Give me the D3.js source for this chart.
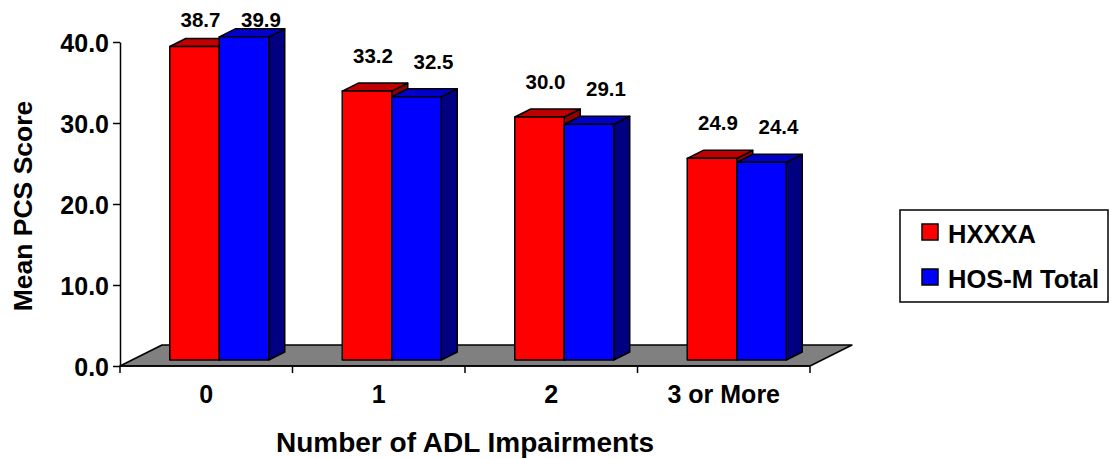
<!DOCTYPE html>
<html>
<head>
<meta charset="utf-8">
<script src="https://cdn.jsdelivr.net/npm/d3@7"></script>
<style>
  html, body { margin: 0; padding: 0; background: #fff; }
  svg { display: block; }
  text { font-family: "Liberation Sans", Arial, sans-serif; font-weight: bold; fill: #000; }
</style>
</head>
<body>
<svg id="chart" width="1112" height="459"></svg>
<script>
// Mean PCS score by number of ADL impairments
const categories = ["0", "1", "2", "3 or More"];
const seriesNames = ["HXXXA", "HOS-M Total"];
const hxxxa = [38.7, 33.2, 30.0, 24.9];
const hosmTotal = [39.9, 32.5, 29.1, 24.4];
const yTicks = [0, 10, 20, 30, 40];

const seriesValues = [hxxxa, hosmTotal];
const frontColors = ["#ff0000", "#0000ff"];
const topColors = ["#c00000", "#0000c8"];
const sideColors = ["#900000", "#000080"];
const labelShift = [6, 17];

const svg = d3.select("#chart");

// plot frame
const left = 120, right = 810, baseY = 366, topY = 42;
const floorDX = 42, floorDY = -21;   // depth of the floor
const barDX = 16, barDY = -8;        // depth of each bar
const frontDX = 13, frontDY = -6;    // bars stand slightly behind the front edge

const x = d3.scaleBand().domain(categories).range([left, right]).paddingInner(0).paddingOuter(0);
const y = d3.scaleLinear().domain([0, 40]).range([baseY, topY]);
const yBar = v => y(v) + frontDY;
const barW = 49.5;

// floor
svg.append("polygon")
  .attr("points", [
    [left, baseY], [right, baseY],
    [right + floorDX, baseY + floorDY], [left + floorDX, baseY + floorDY]
  ].map(p => p.join(",")).join(" "))
  .attr("fill", "#808080")
  .attr("stroke", "#000")
  .attr("stroke-width", 1.5)
  .attr("stroke-linejoin", "round");

// y axis
const yAxis = d3.axisLeft(y).tickValues(yTicks).tickFormat(d3.format(".1f")).tickSize(7).tickSizeOuter(0);
const gy = svg.append("g").attr("transform", `translate(${left},0)`).call(yAxis);
gy.select(".domain").attr("stroke", "#000").attr("stroke-width", 1.5);
gy.selectAll(".tick line").attr("stroke", "#000").attr("stroke-width", 1.5);
gy.selectAll(".tick text").attr("x", -11).attr("dy", "0.36em")
  .style("font-size", "25px").style("font-family", "'Liberation Sans', Arial, sans-serif").style("font-weight", "bold");

// x axis
const xTickPos = d3.range(categories.length + 1).map(i => left + i * x.bandwidth());
svg.append("line")
  .attr("x1", left).attr("x2", right).attr("y1", baseY).attr("y2", baseY)
  .attr("stroke", "#000").attr("stroke-width", 1.5);
svg.selectAll(".xtick").data(xTickPos).enter().append("line")
  .attr("class", "xtick")
  .attr("x1", d => d).attr("x2", d => d)
  .attr("y1", baseY).attr("y2", baseY + 7)
  .attr("stroke", "#000").attr("stroke-width", 1.5);
svg.selectAll(".xlabel").data(categories).enter().append("text")
  .attr("class", "xlabel")
  .attr("x", d => x(d) + x.bandwidth() / 2)
  .attr("y", 403)
  .attr("text-anchor", "middle")
  .style("font-size", "25px")
  .text(d => d);

// 3D bars
categories.forEach((cat, ci) => {
  const center = x(cat) + x.bandwidth() / 2 + frontDX;
  seriesValues.forEach((vals, si) => {
    const v = vals[ci];
    const x0 = center - barW + si * barW;
    const x1 = x0 + barW;
    const yt = yBar(v), yb = yBar(0);
    const g = svg.append("g").attr("class", "bar");
    const pts = a => a.map(p => p.join(",")).join(" ");
    g.append("polygon")
      .attr("points", pts([[x1, yt], [x1 + barDX, yt + barDY], [x1 + barDX, yb + barDY], [x1, yb]]))
      .attr("fill", sideColors[si]);
    g.append("polygon")
      .attr("points", pts([[x0, yt], [x1, yt], [x1 + barDX, yt + barDY], [x0 + barDX, yt + barDY]]))
      .attr("fill", topColors[si]);
    g.append("rect")
      .attr("x", x0).attr("y", yt).attr("width", barW).attr("height", yb - yt)
      .attr("fill", frontColors[si]);
    g.selectAll("polygon, rect")
      .attr("stroke", "#000").attr("stroke-width", 1.5).attr("stroke-linejoin", "round");
  });
});

// value labels
categories.forEach((cat, ci) => {
  const center = x(cat) + x.bandwidth() / 2 + frontDX;
  seriesValues.forEach((vals, si) => {
    const v = vals[ci];
    const cx = center - barW / 2 + si * barW + labelShift[si];
    svg.append("text")
      .attr("x", cx)
      .attr("y", Math.max(yBar(v) - 28, 27))
      .attr("text-anchor", "middle")
      .style("font-size", "20.5px")
      .text(d3.format(".1f")(v));
  });
});

// axis titles
svg.append("text")
  .attr("transform", `translate(32,${(topY + baseY) / 2 + 2}) rotate(-90)`)
  .attr("text-anchor", "middle")
  .style("font-size", "26.5px")
  .text("Mean PCS Score");
svg.append("text")
  .attr("x", (left + right) / 2)
  .attr("y", 452)
  .attr("text-anchor", "middle")
  .style("font-size", "28px")
  .text("Number of ADL Impairments");

// legend
const legend = svg.append("g").attr("transform", "translate(900,210)");
legend.append("rect")
  .attr("x", 0).attr("y", 0).attr("width", 208).attr("height", 92)
  .attr("fill", "#fff").attr("stroke", "#000").attr("stroke-width", 1.5);
seriesNames.forEach((name, i) => {
  legend.append("rect")
    .attr("x", 22).attr("y", 14 + i * 45).attr("width", 16).attr("height", 16)
    .attr("fill", frontColors[i]).attr("stroke", "#000").attr("stroke-width", 1.5);
  legend.append("text")
    .attr("x", 48).attr("y", 33 + i * 45)
    .style("font-size", "25.5px")
    .text(name);
});
</script>
</body>
</html>
